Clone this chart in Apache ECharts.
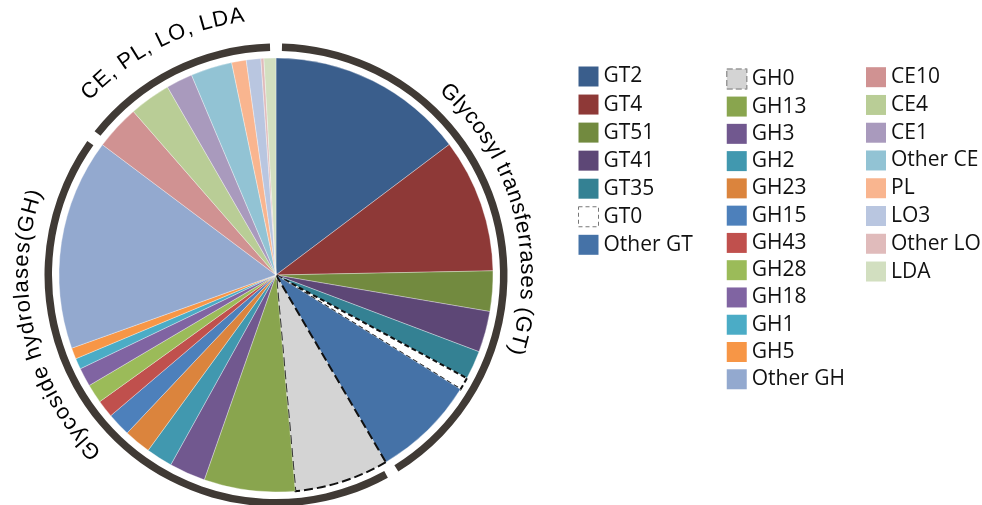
<!DOCTYPE html>
<html><head><meta charset="utf-8">
<script src="https://cdn.jsdelivr.net/npm/echarts@6/dist/echarts.min.js"></script>
<style>html,body{margin:0;padding:0;background:#fff}#c{width:982px;height:505px}</style>
</head><body><div id="c"></div>
<script>
// ---- data ----
const gtNames = ['GT2','GT4','GT51','GT41','GT35','GT0','Other GT'];
const gtValues = [53.0,35.9,10.8,11.0,7.7,3.4,27.8];
const ghNames = ['GH0','GH13','GH3','GH2','GH23','GH15','GH43','GH28','GH18','GH1','GH5','Other GH'];
const ghValues = [25.3,24.4,9.7,7.1,7.2,6.3,4.7,5.1,5.0,2.9,3.0,56.6];
const ceNames = ['CE10','CE4','CE1','Other CE','PL','LO3','Other LO','LDA'];
const ceValues = [12.0,11.1,7.1,11.1,3.9,3.9,0.8,3.2];
const groupNames = ['GT','GH','CE'];
const groupLabels = ['Glycosyl transferrases (GT)','Glycoside hydrolases(GH)','CE, PL, LO, LDA'];

// ---- styles ----
const gtColors = ['#3A5E8C','#8E3937','#728A3F','#5D4776','#348193','#FFFFFF','#4572A7'];
const ghColors = ['#D4D4D4','#89A54E','#71588F','#4198AF','#DB843D','#4D80BB','#C0504D','#9BBB59','#8064A2','#4BACC6','#F79646','#93A9CF'];
const ceColors = ['#D09292','#B9CD96','#A99ABD','#92C3D4','#F9B58F','#B9C6E0','#E0BBBB','#D2DFC0'];
const ringColor = '#403A35';
const special = {
  'GT0': {borderColor:'#111', borderWidth:2, borderType:[5,3]},
  'GH0': {borderColor:'#111', borderWidth:2, borderType:[9,4]}
};
const legendSpecial = {
  'GT0': {borderColor:'#777', borderWidth:1, borderType:[4,3]},
  'GH0': {borderColor:'#999', borderWidth:1.5, borderType:[6,3]}
};

const CX = 276, CY = 275, R = 217;

function items(names, values, colors) {
  return names.map((n,i) => {
    const st = Object.assign({color: colors[i], borderColor:'rgba(255,255,255,0.55)', borderWidth:0.6}, special[n] || {});
    return {name:n, value: values[i], itemStyle: st};
  });
}
const pieData = [].concat(items(gtNames,gtValues,gtColors), items(ghNames,ghValues,ghColors), items(ceNames,ceValues,ceColors));
const sum = a => a.reduce((s,v)=>s+v,0);
const ringData = [sum(gtValues), sum(ghValues), sum(ceValues)].map((v,i)=>({name:groupNames[i], value:v}));

function legendCfg(names, colors, left, top, gap) {
  return {
    orient:'vertical', left:left, top:top, itemWidth:20, itemHeight:20, itemGap:gap, padding:0,
    selectedMode:false, icon:'rect',
    textStyle:{fontFamily:'Open Sans', fontSize:21, color:'#111', lineHeight:20},
    data: names.map((n,i)=>({name:n, itemStyle: Object.assign({color:colors[i], borderWidth:0}, legendSpecial[n]||{})}))
  };
}

// curved text
const measCtx = document.createElement('canvas').getContext('2d');
function arcText(text, midDeg, rBase, fs, spacing) {
  measCtx.font = fs + 'px "Liberation Sans"';
  const ws = [...text].map(ch => measCtx.measureText(ch).width + spacing);
  const total = sum(ws) - spacing;
  let a0 = midDeg*Math.PI/180 - total/(2*rBase);
  const rc = rBase + 0.33*fs;
  const out = [];
  let cum = 0;
  [...text].forEach((ch,i) => {
    const th = a0 + (cum + (ws[i]-spacing)/2)/rBase;
    cum += ws[i];
    out.push({
      type:'text', x: CX + rc*Math.sin(th), y: CY - rc*Math.cos(th), rotation: -th,
      style:{text:ch, fill:'#000', font: fs+'px "Liberation Sans"', align:'center', verticalAlign:'middle'}
    });
  });
  return out;
}
const graphics = [].concat(
  arcText(groupLabels[0], 75, 244, 22, 0.6),
  arcText(groupLabels[1], 257, 247, 22, 1.0),
  arcText(groupLabels[2], 333, 254, 22, 0.8)
);

const chart = echarts.init(document.getElementById('c'), null, {renderer:'canvas'});
chart.setOption({
  animation:false,
  backgroundColor:'#fff',
  legend:[
    legendCfg(gtNames, gtColors, 578, 66, 7.05),
    legendCfg(ghNames, ghColors, 726, 68.3, 6.27),
    legendCfg(ceNames, ceColors, 866, 66.7, 6.76)
  ],
  series:[
    {type:'pie', center:[CX,CY], radius:[0,R], startAngle:90, clockwise:true, minAngle:0,
     avoidLabelOverlap:false, label:{show:false}, labelLine:{show:false}, silent:true,
     data: pieData},
    {type:'pie', center:[CX,CY], radius:[224,231.5], startAngle:90, clockwise:true, padAngle:3,
     label:{show:false}, labelLine:{show:false}, silent:true, legendHoverLink:false,
     itemStyle:{color:ringColor, borderWidth:0},
     data: ringData}
  ],
  graphic: graphics
});
</script></body></html>
